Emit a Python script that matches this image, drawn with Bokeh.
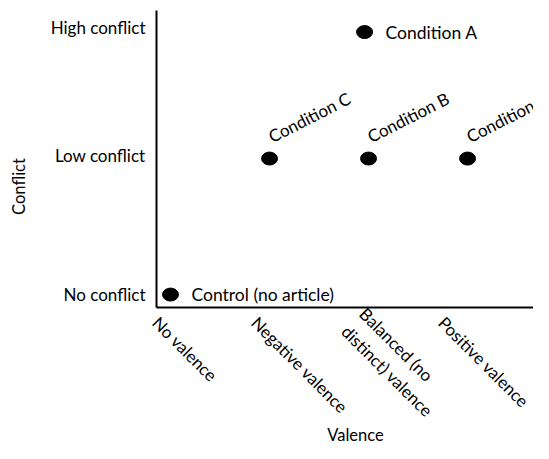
import math
from bokeh.plotting import figure
from bokeh.models import ColumnDataSource, FixedTicker, Range1d
from bokeh.core.properties import value
from bokeh.embed import file_html
from bokeh.resources import INLINE

# ---- data ----
valence_ticks = [0, 1, 2, 3]
valence_labels = ["No valence", "Negative valence", "Balanced (no\ndistinct) valence", "Positive valence"]
conflict_ticks = [0, 1.02, 1.96]
conflict_labels = ["No conflict", "Low conflict", "High conflict"]
x_title = "Valence"
y_title = "Conflict"

cond_names = ["Control (no article)", "Condition C", "Condition B", "Condition D", "Condition A"]
cond_valence = [0, 1, 2, 3, 1.96]
cond_conflict = [0, 1.0, 1.0, 1.0, 1.93]

FONT = "Lato"
W, H = 533, 443

# axes drawn at fixed positions inside a frame that fills the canvas
X0, X1 = -1.717, 3.666
Y0, Y1 = -1.095, 2.162
X_AXIS_AT = -0.0956
Y_AXIS_AT = -0.1414
Y_AXIS_TOP = 2.088
LABEL_SHIFT = -0.15   # x tick labels start a little left of each category


def sx(px):
    return X0 + px / W * (X1 - X0)


def sy(py):
    return Y1 - py / H * (Y1 - Y0)


p = figure(width=W, height=H, output_backend="svg", toolbar_location=None,
           x_range=Range1d(X0, X1), y_range=Range1d(Y0, Y1),
           min_border=0)
p.outline_line_color = None
p.xgrid.visible = False
p.ygrid.visible = False

src = ColumnDataSource(dict(x=cond_valence, y=cond_conflict, name=cond_names))
p.ellipse(x="x", y="y", width=16, height=13, width_units="screen", height_units="screen",
          source=src, fill_color="black", line_color="black")

flat_idx = [0, 4]
flat = ColumnDataSource(dict(x=[cond_valence[i] for i in flat_idx],
                             y=[cond_conflict[i] for i in flat_idx],
                             t=[cond_names[i] for i in flat_idx]))
p.text(x="x", y="y", text="t", source=flat, x_offset=21, text_align="left",
       text_baseline="middle", text_font=value(FONT), text_font_size="17.5px", text_color="black")

rot_idx = [1, 2, 3]
rot = ColumnDataSource(dict(x=[cond_valence[i] for i in rot_idx],
                            y=[cond_conflict[i] for i in rot_idx],
                            t=[cond_names[i] for i in rot_idx]))
p.text(x="x", y="y", text="t", source=rot, x_offset=0, y_offset=-21, angle=0.47,
       text_align="left", text_baseline="alphabetic", text_font=value(FONT),
       text_font_size="17px", text_color="black")

for ax in (p.xaxis[0], p.yaxis[0]):
    ax.axis_line_width = 2
    ax.axis_line_color = "black"
    ax.major_tick_line_color = None
    ax.minor_tick_line_color = None
    ax.major_label_text_font = FONT
    ax.major_label_text_font_size = "17px"
    ax.major_label_text_color = "black"

tick_pos = [v + LABEL_SHIFT for v in valence_ticks]
p.xaxis.fixed_location = X_AXIS_AT
p.xaxis.bounds = (Y_AXIS_AT, X1)
p.xaxis.ticker = FixedTicker(ticks=tick_pos)
p.xaxis.major_label_overrides = {t: l for t, l in zip(tick_pos, valence_labels)}
p.xaxis.major_label_orientation = -math.pi / 4
p.xaxis.major_label_standoff = 6

p.yaxis.fixed_location = Y_AXIS_AT
p.yaxis.bounds = (X_AXIS_AT, Y_AXIS_TOP)
p.yaxis.ticker = FixedTicker(ticks=conflict_ticks)
p.yaxis.major_label_overrides = {t: l for t, l in zip(conflict_ticks, conflict_labels)}
p.yaxis.major_label_standoff = 5

# axis titles
p.text(x=[sx(355)], y=[sy(434)], text=[x_title], text_align="center", text_baseline="middle",
       text_font=value(FONT), text_font_size="16.5px", text_color="black")
p.text(x=[sx(18)], y=[sy(186)], text=[y_title], angle=math.pi / 2, text_align="center",
       text_baseline="middle", text_font=value(FONT), text_font_size="16.5px", text_color="black")

open("out.html", "w").write(file_html(p, INLINE))
